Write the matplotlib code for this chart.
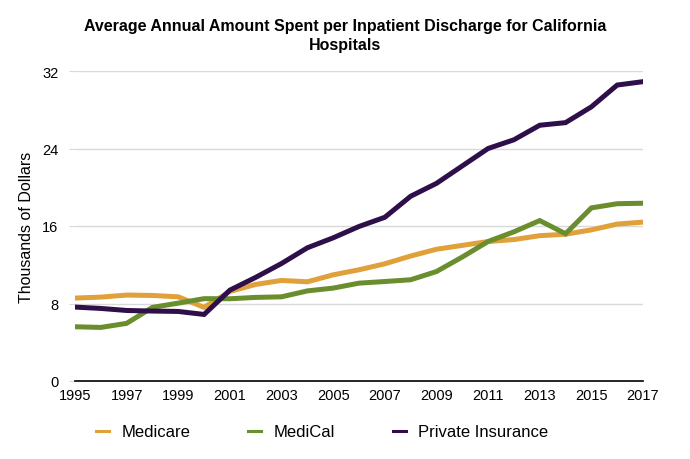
import matplotlib
matplotlib.use("Agg")
import matplotlib.pyplot as plt
from matplotlib.lines import Line2D

plt.rcParams['font.family'] = ['Liberation Sans', 'DejaVu Sans']

years = list(range(1995, 2018))
medicare = [8.56, 8.66, 8.87, 8.83, 8.69, 7.6, 9.24, 9.97, 10.38, 10.24, 10.96, 11.48,
            12.1, 12.9, 13.6, 14.0, 14.4, 14.6, 15.0, 15.15, 15.6, 16.2, 16.4]
medical = [5.6, 5.53, 5.95, 7.6, 8.04, 8.5, 8.49, 8.63, 8.69, 9.3, 9.59, 10.1,
           10.27, 10.45, 11.3, 12.8, 14.4, 15.4, 16.56, 15.2, 17.87, 18.3, 18.35]
private = [7.63, 7.49, 7.28, 7.22, 7.18, 6.87, 9.38, 10.7, 12.13, 13.75, 14.78, 15.95,
           16.9, 19.07, 20.4, 22.2, 24.0, 24.9, 26.4, 26.67, 28.3, 30.55, 30.9]
series_names = ["Medicare", "MediCal", "Private Insurance"]
colors = ["#E0A03A", "#6A8E2E", "#2E0F4A"]
yticks = [0, 8, 16, 24, 32]
xticks = list(range(1995, 2018, 2))

fig = plt.figure(figsize=(6.9, 4.6), dpi=100)
ax = fig.add_axes([75/690, 1-382/460, (643-75)/690, (382-72)/460])

for vals, c in zip([medicare, medical, private], colors):
    ax.plot(years, vals, color=c, lw=3.6, solid_joinstyle='miter', zorder=3)

ax.set_xlim(1995, 2017)
ax.set_ylim(0, 32)
ax.set_yticks(yticks)
ax.set_xticks(xticks)
ax.set_xticklabels([str(x) for x in xticks], fontsize=10.5)
ax.set_yticklabels([str(y) for y in yticks], fontsize=10.5)
ax.yaxis.grid(True, color='#D9D9D9', lw=1)
ax.set_axisbelow(True)
for s in ['top', 'right', 'left']:
    ax.spines[s].set_visible(False)
ax.spines['bottom'].set_color('black')
ax.spines['bottom'].set_linewidth(1.2)
ax.tick_params(axis='y', length=4, color='#D9D9D9', pad=8)
ax.tick_params(axis='x', length=0, pad=5)
ax.set_ylabel("Thousands of Dollars", fontsize=11.5, labelpad=6)

fig.text(0.5, 1-36/460, "Average Annual Amount Spent per Inpatient Discharge for California\nHospitals",
         ha='center', va='center', fontsize=11.5, fontweight='bold', linespacing=1.35)

handles = [Line2D([0], [0], color=c, lw=2.2) for c in colors]
fig.legend(handles, series_names, loc='center', bbox_to_anchor=(0.467, 1-433/460), ncol=3,
           frameon=False, fontsize=12, handlelength=0.75, handletextpad=0.75, columnspacing=3.5)

fig.savefig("out.png", dpi=100)
